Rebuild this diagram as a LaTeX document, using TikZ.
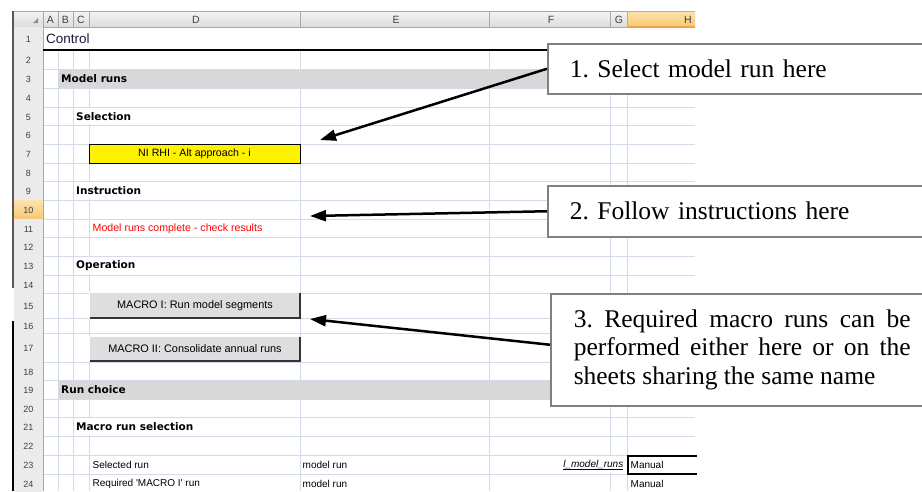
\documentclass[tikz,border=0pt]{standalone}
\usepackage{fontspec}
\setmainfont{Liberation Serif}
\newfontfamily\cellfont{Liberation Sans}[Ligatures=TeXOff]
\newfontfamily\headfont{DejaVu Sans}
\usetikzlibrary{arrows.meta}
\frenchspacing

\definecolor{gridc}{HTML}{D3DBE9}
\definecolor{hdtop}{HTML}{F4F4F4}
\definecolor{hdbot}{HTML}{DCDCDC}
\definecolor{hdline}{HTML}{A8A8A8}
\definecolor{rowhd}{HTML}{EBEBEB}
\definecolor{seltop}{HTML}{FCE3AE}
\definecolor{selbot}{HTML}{F7C873}
\definecolor{selline}{HTML}{F0A347}
\definecolor{bandc}{HTML}{D8D8D8}
\definecolor{btnfill}{HTML}{DEDEDE}
\definecolor{boxline}{HTML}{808080}
\definecolor{titlec}{HTML}{1C1C3C}

\begin{document}
\begin{tikzpicture}[x=1pt,y=-1pt,
  gridline/.style={draw=gridc,line width=0.8pt},
  hdsep/.style={draw=hdline,line width=0.7pt},
  cellt/.style={font=\cellfont\fontsize{10}{12}\selectfont,inner sep=0pt,anchor=west},
  boldt/.style={font=\headfont\bfseries\fontsize{10.5}{12}\selectfont,inner sep=0pt,anchor=west},
  colhd/.style={font=\cellfont\fontsize{10.5}{12}\selectfont,text=black!75,inner sep=0pt},
  rownum/.style={font=\cellfont\fontsize{9}{11}\selectfont,text=black!75,inner sep=0pt},
  btn/.style={fill=btnfill,minimum width=210pt,inner sep=0pt,
    font=\cellfont\fontsize{10.9}{12}\selectfont},
  callout/.style={draw=boxline,line width=1.5pt,fill=white,anchor=north west,
    inner ysep=0pt,font=\fontsize{25.5}{28.5}\selectfont},
  pointer/.style={line width=2.5pt,-{Triangle[length=16pt,width=11pt]}}
]
\useasboundingbox (0,0) rectangle (922,491);
\clip (0,0) rectangle (922,491);
\fill[white] (0,0) rectangle (922,491);

% ---- column header strip
\shade[top color=hdtop,bottom color=hdbot] (14,11) rectangle (695,27);
\shade[top color=seltop,bottom color=selbot] (627,11) rectangle (695,27);
\draw[hdsep] (14,11) -- (695,11);
\draw[hdsep] (14,27) -- (627,27);
\foreach \x in {43,58,73,89,300,489,610} \draw[hdsep] (\x,11.5) -- (\x,27);
\draw[selline,line width=1pt] (627,27) -- (627,11.5) -- (695,11.5);
\draw[selline,line width=1.5pt] (627,27) -- (695,27);
\fill[black!45] (38,18) -- (38,23) -- (33,23) -- cycle;
\node[colhd] (cA) at (50.5,19.5) {A};
\node[colhd] (cB) at (65.5,19.5) {B};
\node[colhd] (cC) at (81,19.5) {C};
\node[colhd] (cD) at (196,19.5) {D};
\node[colhd] (cE) at (396,19.5) {E};
\node[colhd] (cF) at (551,19.5) {F};
\node[colhd] (cG) at (619,19.5) {G};
\node[colhd] (cH) at (688,19.5) {H};

% ---- row headers and horizontal grid
\foreach \n/\a/\b in {1/27/50,2/50/69,3/69/88,4/88/107,5/107/125,6/125/144,
    7/144/163,8/163/181,9/181/200,10/200/219,11/219/237,12/237/256,
    13/256/275,14/275/293,15/293/318,16/318/333,17/333/362,18/362/380,
    19/380/399,20/399/417,21/417/436,22/436/455,23/455/474,24/474/492}{
  \ifnum\n=10
    \shade[top color=seltop,bottom color=selbot] (14,\a) rectangle (43,\b);
    \draw[selline,line width=1pt] (14,\b) -- (43,\b);
  \else
    \fill[rowhd] (14,\a) rectangle (43,\b);
    \draw[hdsep] (14,\b) -- (43,\b);
  \fi
  \node[rownum] (r\n) at (28.5,{(\a+\b)/2+1}) {\n};
  \ifnum\n>1 \draw[gridline] (43,\b) -- (695,\b); \fi
}
\draw[hdsep] (43,27) -- (43,491);

% ---- vertical grid
\foreach \x in {58,73,89,300,489,610,627} \draw[gridline] (\x,50) -- (\x,491);
% text spilling over into the next column hides the grid line there
\foreach \a/\b in {107/125,181/200,256/275,417/436}
  \fill[white] (87.8,\a+0.6) rectangle (90.2,\b-0.6);
\fill[white] (608.8,455.6) rectangle (611.2,473.4);

% ---- section bands
\fill[bandc] (58.5,69.5) rectangle (695,87.5);
\fill[bandc] (58.5,380.5) rectangle (695,398.5);

% ---- title row
\draw[black,line width=1.3pt] (43,50) -- (695,50);
\node[cellt,font=\cellfont\fontsize{13.5}{15}\selectfont,text=titlec] (title) at (46,39) {Control};

% ---- cell contents
\node[boldt] (h3) at (61,79) {Model runs};
\node[boldt] (h5) at (76,116.5) {Selection};
\node[draw=black,line width=1pt,fill=yellow,minimum width=211pt,minimum height=19pt,
  inner sep=0pt,font=\cellfont\fontsize{10.6}{12}\selectfont] (sel) at (194.5,153.5)
  {NI RHI - Alt approach - i};
\node[boldt] (h9) at (76,191) {Instruction};
\node[cellt,text=red,font=\cellfont\fontsize{10.6}{12}\selectfont] (msg) at (92.5,228.5)
  {Model runs complete - check results};
\node[boldt] (h13) at (76,266) {Operation};

\node[btn,minimum height=25pt] (m1) at (195,305.5) {MACRO I: Run model segments};
\draw[white,line width=1pt] (m1.south west) -- (m1.north west) -- (m1.north east);
\draw[black!80,line width=1.5pt] (m1.south west) -- (m1.south east) -- (m1.north east);
\node[btn,minimum height=24pt] (m2) at (195,349) {MACRO II: Consolidate annual runs};
\draw[white,line width=1pt] (m2.south west) -- (m2.north west) -- (m2.north east);
\draw[black!80,line width=1.5pt] (m2.south west) -- (m2.south east) -- (m2.north east);

\node[boldt] (h19) at (61,390) {Run choice};
\node[boldt] (h21) at (76,427) {Macro run selection};

\node[cellt] (d23) at (92.5,465) {Selected run};
\node[cellt] (e23) at (302.5,465) {model run};
\node[cellt,anchor=east,font=\cellfont\itshape\fontsize{10}{12}\selectfont] (f23) at (623.5,465)
  {\underline{l\_model\_runs}};
\draw[black,line width=2pt] (697,455.5) -- (627.5,455.5) -- (627.5,474) -- (697,474);
\node[cellt] (h23) at (630.5,465) {Manual};
\node[cellt] (d24) at (92.5,484) {Required 'MACRO I' run};
\node[cellt] (e24) at (302.5,484) {model run};
\node[cellt] (h24) at (630.5,484) {Manual};

% ---- window edge
\draw[black!65,line width=2pt] (13,11) -- (13,288);
\draw[black,line width=2pt] (13,321) -- (13,491);

% ---- callouts
\node[callout,minimum width=400pt,minimum height=50pt,inner xsep=22pt,
  text width=356pt,align=left] (b1) at (547,43) {1. Select model run here};
\node[callout,minimum width=400pt,minimum height=51pt,inner xsep=22pt,
  text width=356pt,align=left] (b2) at (547,185) {2. Follow instructions here};
\node[callout,minimum width=383pt,minimum height=112pt,inner xsep=23pt,
  text width=337pt,align=justify] (b3) at (550,293)
  {3. Required macro runs can be\linebreak performed either here or on the\linebreak
   sheets sharing the same name};

\coordinate (t1) at (320,140);
\coordinate (t2) at (310,216);
\coordinate (t3) at (310,319);
\draw[pointer] (b1.west) -- (t1);
\draw[pointer] (b2.west) -- (t2);
\draw[pointer] ([yshift=5pt]b3.west) -- (t3);
\end{tikzpicture}
\end{document}
